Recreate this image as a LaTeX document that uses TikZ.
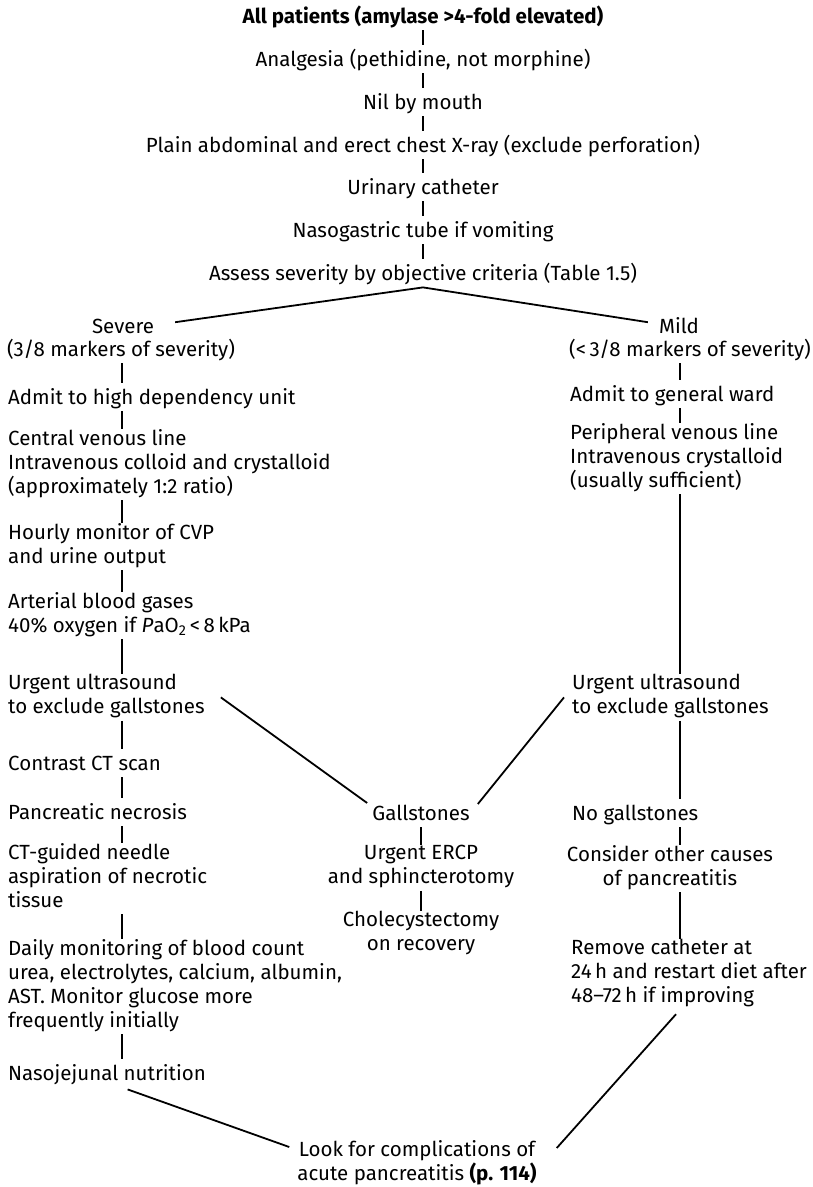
\documentclass[tikz,border=0pt]{standalone}
\usepackage{fontspec}
\setmainfont{Fira Sans}
\newcommand\topstrut{\rule{0pt}{21pt}}
\newcommand\botstrut{\rule[-7pt]{0pt}{7pt}}
\newcommand\flowfont{\fontsize{20.5}{24}\selectfont}
\tikzset{
  txt/.style={inner sep=0pt, font=\flowfont, execute at begin node=\topstrut, execute at end node=\botstrut},
  ltxt/.style={txt, anchor=north west, align=left},
  ctxt/.style={txt, anchor=north, align=center},
  link/.style={line width=1.8pt}
}
\begin{document}
\begin{tikzpicture}[x=1pt,y=1pt,yscale=-1]
\useasboundingbox (0,0) rectangle (813,1187);
\coordinate (lx) at (122,0);
\coordinate (mx) at (421,0);
\coordinate (rx) at (680,0);

% common steps
\draw (423,2) node [ctxt] (all) {\textbf{All patients (amylase >4-fold elevated)}};
\draw (423,45) node [ctxt] (anal) {Analgesia (pethidine, not morphine)};
\draw (423,88) node [ctxt] (nil) {Nil by mouth};
\draw (423,131) node [ctxt] (xray) {Plain abdominal and erect chest X-ray (exclude perforation)};
\draw (423,173) node [ctxt] (cath) {Urinary catheter};
\draw (423,216) node [ctxt] (ngt) {Nasogastric tube if vomiting};
\draw (423,259) node [ctxt] (assess) {Assess severity by objective criteria (Table 1.5)};

% severe branch
\draw (123,312) node [ctxt] (sev) {Severe};
\draw (121,335) node [ctxt] (sevsub) {(3/8 markers of severity)};
\draw (8,383) node [ltxt] (hdu) {Admit to high dependency unit};
\draw (8,429) node [ltxt] (cvl) {Central venous line\\Intravenous colloid and crystalloid\\(approximately 1:2 ratio)};
\draw (8,523) node [ltxt] (cvp) {Hourly monitor of CVP\\and urine output};
\draw (8,592) node [ltxt] (abg) {Arterial blood gases\\40\% oxygen if \textit{P}aO\textsubscript{2}\thinspace<\thinspace8\thinspace kPa};
\draw (8,674) node [ltxt] (usl) {Urgent ultrasound\\to exclude gallstones};
\draw (8,749) node [ltxt] (ct) {Contrast CT scan};
\draw (8,798) node [ltxt] (necr) {Pancreatic necrosis};
\draw (8,843) node [ltxt] (asp) {CT-guided needle\\aspiration of necrotic\\tissue};
\draw (8,939) node [ltxt] (daily) {Daily monitoring of blood count\\urea, electrolytes, calcium, albumin,\\AST. Monitor glucose more\\frequently initially};
\draw (8,1059) node [ltxt] (nj) {Nasojejunal nutrition};

% gallstones
\draw (421,799) node [ctxt] (gall) {Gallstones};
\draw (421,845) node [ctxt] (ercp) {Urgent ERCP\\and sphincterotomy};
\draw (421,911) node [ctxt] (chol) {Cholecystectomy\\on recovery};

% mild branch
\draw (679,312) node [ctxt] (mild) {Mild};
\draw (569,335) node [ltxt] (mildsub) {(<\thinspace3/8 markers of severity)};
\draw (570,380) node [ltxt] (ward) {Admit to general ward};
\draw (570,423) node [ltxt] (pvl) {Peripheral venous line\\Intravenous crystalloid\\(usually sufficient)};
\draw (572,674) node [ltxt] (usr) {Urgent ultrasound\\to exclude gallstones};
\draw (572,799) node [ltxt] (nogall) {No gallstones};
\draw (670,845) node [ctxt] (other) {Consider other causes\\of pancreatitis};
\draw (571,939) node [ltxt] (diet) {Remove catheter at\\24\thinspace h and restart diet after\\48--72\thinspace h if improving};

\draw (417,1140) node [ctxt] (compl) {Look for complications of\\acute pancreatitis \textbf{(p. 114)}};

% connectors
\draw [link] (all.south) -- (anal.north);
\draw [link] (anal.south) -- (nil.north);
\draw [link] (nil.south) -- (xray.north);
\draw [link] (xray.south) -- (cath.north);
\draw [link] (cath.south) -- (ngt.north);
\draw [link] (ngt.south) -- (assess.north);
\draw [link] ([shift={(21,-4)}]sev.east) -- (assess.south) -- ([shift={(-11,-4)}]mild.west);

\draw [link] (sevsub.south -| lx) -- (hdu.north -| lx);
\draw [link] (hdu.south -| lx) -- (cvl.north -| lx);
\draw [link] (cvl.south -| lx) -- (cvp.north -| lx);
\draw [link] (cvp.south -| lx) -- (abg.north -| lx);
\draw [link] (abg.south -| lx) -- (usl.north -| lx);
\draw [link] (usl.south -| lx) -- (ct.north -| lx);
\draw [link] (ct.south -| lx) -- (necr.north -| lx);
\draw [link] (necr.south -| lx) -- (asp.north -| lx);
\draw [link] (asp.south -| lx) -- (daily.north -| lx);
\draw [link] (daily.south -| lx) -- (nj.north -| lx);

\draw [link] (mildsub.south -| rx) -- (ward.north -| rx);
\draw [link] (ward.south -| rx) -- (pvl.north -| rx);
\draw [link] (pvl.south -| rx) -- (usr.north -| rx);
\draw [link] (usr.south -| rx) -- (nogall.north -| rx);
\draw [link] (nogall.south -| rx) -- (other.north -| rx);
\draw [link] (other.south -| rx) -- (diet.north -| rx);

\draw [link] (gall.south -| mx) -- (ercp.north -| mx);
\draw [link] (ercp.south -| mx) -- (chol.north -| mx);

\draw [link] ([xshift=16pt]usl.east) -- ([shift={(-5,4)}]gall.north west);
\draw [link] ([xshift=-8pt]usr.west) -- ([shift={(8,5)}]gall.north east);
\draw [link, shorten <=6pt] (nj.south -| lx) -- ([shift={(-8,7)}]compl.north west);
\draw [link, shorten <=6pt] (diet.south -| rx) -- ([shift={(20,8)}]compl.north east);
\end{tikzpicture}
\end{document}
